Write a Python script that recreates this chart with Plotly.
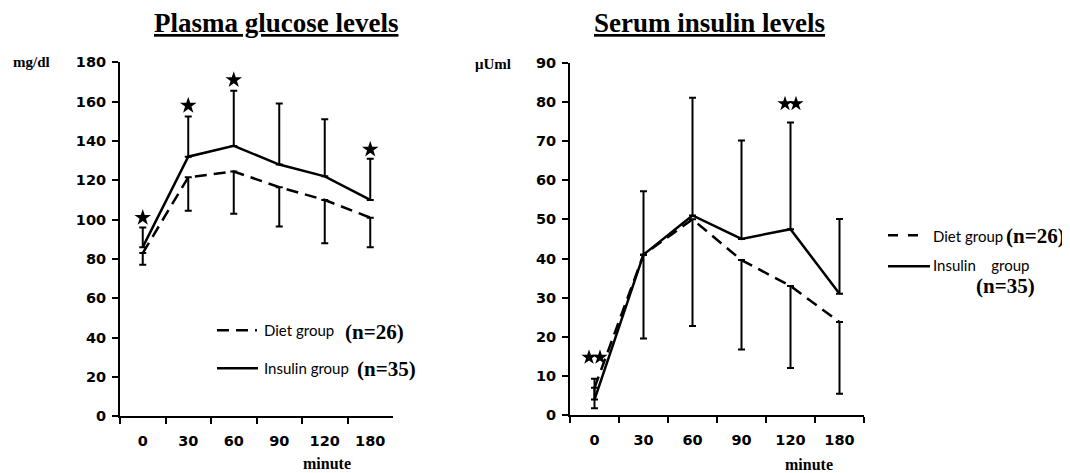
import plotly.graph_objects as go

# ---------------- data ----------------
minutes = ["0", "30", "60", "90", "120", "180"]

glucose_insulin = [86, 132, 137.5, 128, 122, 110]
glucose_insulin_sd = [10, 20.5, 28, 31, 29, 21]
glucose_diet = [83, 121.5, 124.5, 116.5, 110, 101]
glucose_diet_sd = [6, 17, 21.5, 20, 22, 15]
glucose_star_cats = ["0", "30", "60", "180"]
glucose_star_y = [101, 158, 171, 135.7]

insulin_insulin = [4, 41, 51, 45, 47.5, 31]
insulin_insulin_sd = [5.3, 16.2, 30, 25.1, 27.2, 19.1]
insulin_diet = [7, 41, 50, 39.6, 33, 23.8]
insulin_diet_sd = [5.2, 21.4, 27.2, 22.8, 20.9, 18.3]
insulin_star_cats = ["0", "120"]
insulin_star_y = [14.8, 79.5]

glucose_ticks = [0, 20, 40, 60, 80, 100, 120, 140, 160, 180]
insulin_ticks = [0, 10, 20, 30, 40, 50, 60, 70, 80, 90]

W, H = 1070, 473
BLACK = "black"
DASH = "12px,7px"

# observed page mapping (body offset / effective height)
OX, OY, EH = 8.0, 15.7, 457.0


def PX(t):
    return (t - OX) / W


def PY(t):
    return 1 - (t - OY) / EH


fig = go.Figure()


def add_panel(xa, ya, ins, ins_sd, diet, diet_sd):
    fig.add_trace(go.Scatter(
        x=minutes, y=diet, mode="lines", xaxis=xa, yaxis=ya,
        line=dict(color=BLACK, width=2.5, dash=DASH),
        error_y=dict(type="data", symmetric=False, array=[0] * len(diet),
                     arrayminus=diet_sd, color=BLACK, thickness=2, width=3.5),
        showlegend=False, hoverinfo="skip"))
    fig.add_trace(go.Scatter(
        x=minutes, y=ins, mode="lines", xaxis=xa, yaxis=ya,
        line=dict(color=BLACK, width=2.5),
        error_y=dict(type="data", symmetric=False, array=ins_sd,
                     arrayminus=[0] * len(ins), color=BLACK, thickness=2, width=3.5),
        showlegend=False, hoverinfo="skip"))


add_panel("x", "y", glucose_insulin, glucose_insulin_sd, glucose_diet, glucose_diet_sd)
add_panel("x2", "y2", insulin_insulin, insulin_insulin_sd, insulin_diet, insulin_diet_sd)

star_marker = dict(symbol="star", size=12.5, color=BLACK, line=dict(width=0))

# single stars (glucose) on a numeric overlay axis aligned with the categories
fig.add_trace(go.Scatter(
    x=[minutes.index(c) for c in glucose_star_cats], y=glucose_star_y,
    mode="markers", marker=star_marker, xaxis="x3", yaxis="y",
    showlegend=False, hoverinfo="skip"))
# double stars (insulin): two touching stars per flagged point
for off in (-0.112, 0.112):
    fig.add_trace(go.Scatter(
        x=[minutes.index(c) + off for c in insulin_star_cats], y=insulin_star_y,
        mode="markers", marker=dict(star_marker, size=11.5), xaxis="x4", yaxis="y2",
        showlegend=False, hoverinfo="skip"))

tickfont = dict(family="DejaVu Sans", size=14.5, color=BLACK, weight="bold")


def xaxis(dom, anchor):
    return dict(domain=dom, anchor=anchor, type="category", range=[-0.5, 5.5],
                showline=True, linecolor=BLACK, linewidth=2, showgrid=False,
                zeroline=False, ticks="outside", tickson="boundaries", ticklen=6,
                tickwidth=2, tickcolor=BLACK, tickfont=tickfont, ticklabelstandoff=10)


def overlay_x(dom, over, anchor):
    return dict(domain=dom, overlaying=over, anchor=anchor, range=[-0.5, 5.5],
                visible=False, showgrid=False, zeroline=False)


def yaxis(dom, anchor, rng, tv):
    return dict(domain=dom, anchor=anchor, range=rng, tickvals=tv,
                showline=True, linecolor=BLACK, linewidth=2, showgrid=False,
                zeroline=False, ticks="outside", ticklen=6, tickwidth=2,
                tickcolor=BLACK, tickfont=tickfont, ticklabelstandoff=3)


fig.update_layout(
    width=W, height=H, autosize=False,
    margin=dict(l=0, r=0, t=0, b=0),
    paper_bgcolor="white", plot_bgcolor="white",
    xaxis=xaxis([PX(120), PX(393)], "y"),
    yaxis=yaxis([PY(416), PY(62)], "x", [0, 180], glucose_ticks),
    xaxis2=xaxis([PX(570), PX(864)], "y2"),
    yaxis2=yaxis([PY(415), PY(62.3)], "x2", [0, 90], insulin_ticks),
    xaxis3=overlay_x([PX(120), PX(393)], "x", "y"),
    xaxis4=overlay_x([PX(570), PX(864)], "x2", "y2"),
)

serif_b = dict(family="Liberation Serif", color=BLACK, weight="bold")
sans = dict(family="Lato", color=BLACK, size=15)


def ann(x, y, text, font, xanchor="center", yanchor="middle"):
    fig.add_annotation(x=PX(x), y=PY(y), xref="paper", yref="paper", text=text,
                       showarrow=False, font=font, xanchor=xanchor, yanchor=yanchor)


def hline(x0, x1, y, dash=None):
    fig.add_shape(type="line", xref="paper", yref="paper", x0=PX(x0), x1=PX(x1),
                  y0=PY(y), y1=PY(y), line=dict(color=BLACK, width=2.5, dash=dash))


# titles
ann(276, 23, "<u>Plasma glucose levels</u>", dict(serif_b, size=27))
ann(709, 23, "<u>Serum insulin levels</u>", dict(serif_b, size=27))
# unit labels
ann(32, 62, "mg/dl", dict(serif_b, size=15))
ann(493, 64, "μUml", dict(serif_b, size=15))
# x titles
ann(327, 463.5, "minute", dict(serif_b, size=16))
ann(809, 464.5, "minute", dict(serif_b, size=16))

# legend (left)
hline(217, 257, 330, DASH)
hline(217, 258, 368)
ann(262, 330, "Diet group", sans, xanchor="left")
ann(343, 332, "(n=26)", dict(serif_b, size=21), xanchor="left")
ann(262, 368, "Insulin group", sans, xanchor="left")
ann(355, 369, "(n=35)", dict(serif_b, size=21), xanchor="left")

# legend (right)
hline(888, 918, 235, "10px,10px")
hline(888, 930, 266)
ann(931, 236, "Diet group", sans, xanchor="left")
ann(1004, 236, "(n=26)", dict(serif_b, size=21), xanchor="left")
ann(931, 265, "Insulin&nbsp;&nbsp;&nbsp;&nbsp;group", sans, xanchor="left")
ann(974, 286, "(n=35)", dict(serif_b, size=21), xanchor="left")

fig.write_html("out.html")
